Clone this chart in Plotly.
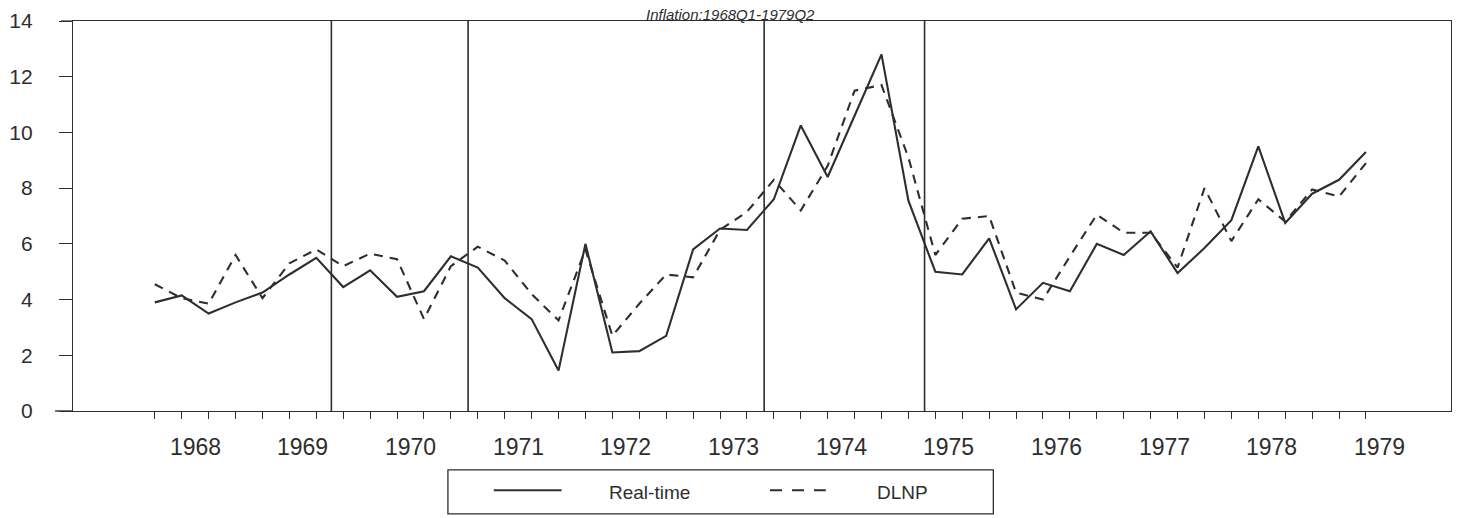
import plotly.graph_objects as go

# ---------------- data ----------------
quarters = [f"{y}Q{q}" for y in range(1968, 1980) for q in range(1, 5)][:46]

real_time = [3.9, 4.15, 3.5, 3.9, 4.25, 4.9, 5.5, 4.45, 5.05, 4.1, 4.3, 5.55,
             5.15, 4.05, 3.3, 1.45, 6.0, 2.1, 2.15, 2.7, 5.8, 6.55, 6.5, 7.6,
             10.25, 8.4, 10.6, 12.8, 7.55, 5.0, 4.9, 6.2, 3.65, 4.6, 4.3, 6.0,
             5.6, 6.45, 4.95, 5.85, 6.85, 9.5, 6.75, 7.8, 8.3, 9.3]

dlnp = [4.55, 4.05, 3.85, 5.6, 4.05, 5.3, 5.8, 5.2, 5.65, 5.45, 3.3, 5.2,
        5.9, 5.4, 4.2, 3.25, 5.8, 2.7, 3.85, 4.9, 4.8, 6.5, 7.15, 8.3,
        7.2, 8.8, 11.5, 11.7, 9.1, 5.6, 6.9, 7.0, 4.25, 4.0, 5.55, 7.05,
        6.4, 6.4, 5.15, 8.0, 6.1, 7.6, 6.8, 7.95, 7.7, 8.9]

# recession boundaries (fractional years) drawn as vertical lines
recession_bounds = [1969.64, 1970.91, 1973.66, 1975.15]

year_labels = [str(y) for y in range(1968, 1980)]
y_ticks = [0, 2, 4, 6, 8, 10, 12, 14]
series_names = ["Real-time", "DLNP"]
title_text = "Inflation:1968Q1-1979Q2"


def qpos(s):
    return int(s[:4]) + (int(s[-1]) - 1) / 4


x = [qpos(s) for s in quarters]
years = [int(y) for y in year_labels]

INK = "#2e2e2e"
FONT = "Liberation Sans, Arial, sans-serif"
W, H = 1461, 518
L, R, T, B = 70, 9, 13, 107
PW, PH = W - L - R, H - T - B


def px_x(p):  # page pixel -> paper x
    return (p - L) / PW


def px_y(p):  # page pixel -> paper y
    return 1 - (p - T) / PH


dash_style = "9px,7px"

fig = go.Figure()
fig.add_trace(go.Scatter(x=x, y=real_time, mode="lines", name=series_names[0],
                         line=dict(color=INK, width=2.1)))
fig.add_trace(go.Scatter(x=x, y=dlnp, mode="lines", name=series_names[1],
                         line=dict(color=INK, width=2.1, dash=dash_style)))

for xb in recession_bounds:
    fig.add_shape(type="line", xref="x", yref="paper", x0=xb, x1=xb, y0=0, y1=1,
                  line=dict(color=INK, width=1.6))

# small extensions of bottom/top frame lines to the left of the y axis
fig.add_shape(type="line", xref="paper", yref="paper", x0=px_x(52), x1=0, y0=0, y1=0,
              line=dict(color=INK, width=1.4))
fig.add_shape(type="line", xref="paper", yref="paper", x0=px_x(58), x1=0, y0=1, y1=1,
              line=dict(color=INK, width=1.2))

# year labels centred under each year's four quarters
for yl, yv in zip(year_labels, years):
    fig.add_annotation(x=yv + 0.375, y=px_y(448), xref="x", yref="paper", text=yl,
                       showarrow=False, yanchor="middle", xanchor="center",
                       font=dict(size=23, color=INK, family=FONT))

# title at the very top
fig.add_annotation(x=px_x(729), y=px_y(6.5), xref="paper", yref="paper",
                   text=f"<i>{title_text}</i>", showarrow=False,
                   yanchor="middle", xanchor="center",
                   font=dict(size=15, color=INK, family=FONT))

# legend box drawn below the axis
fig.add_shape(type="rect", xref="paper", yref="paper",
              x0=px_x(446), x1=px_x(993), y0=px_y(516), y1=px_y(471),
              line=dict(color=INK, width=1.3), fillcolor="white")
fig.add_shape(type="line", xref="paper", yref="paper",
              x0=px_x(492), x1=px_x(560), y0=px_y(492), y1=px_y(492),
              line=dict(color=INK, width=2))
fig.add_shape(type="line", xref="paper", yref="paper",
              x0=px_x(769), x1=px_x(825), y0=px_y(492), y1=px_y(492),
              line=dict(color=INK, width=2, dash="12px,10px"))
fig.add_annotation(x=px_x(606), y=px_y(494), xref="paper", yref="paper",
                   text=series_names[0], showarrow=False, xanchor="left",
                   yanchor="middle", font=dict(size=19, color=INK, family=FONT))
fig.add_annotation(x=px_x(874), y=px_y(494), xref="paper", yref="paper",
                   text=series_names[1], showarrow=False, xanchor="left",
                   yanchor="middle", font=dict(size=19, color=INK, family=FONT))

fig.update_layout(
    width=W, height=H,
    margin=dict(l=L, r=R, t=T, b=B),
    paper_bgcolor="white", plot_bgcolor="white",
    font=dict(family=FONT, color=INK),
    showlegend=False,
    xaxis=dict(range=[1967.24, 1980.04], showgrid=False, zeroline=False,
               showline=True, linecolor=INK, linewidth=1.4, mirror=True,
               ticks="outside", tickvals=years, ticktext=[""] * len(years),
               ticklen=14, tickwidth=1.3, tickcolor=INK,
               minor=dict(ticks="outside", tickvals=x, ticklen=7,
                          tickwidth=1.2, tickcolor=INK, showgrid=False)),
    yaxis=dict(range=[0, 14], showgrid=False, zeroline=False, showline=True,
               linecolor=INK, linewidth=1.4, mirror=True, ticks="outside",
               tickvals=y_ticks, ticklen=13, tickwidth=1.3, tickcolor=INK,
               ticklabelstandoff=22,
               tickfont=dict(size=21, color=INK, family=FONT)),
)

fig.write_html("out.html", config={"displayModeBar": False},
               post_script="document.body.style.margin='0';")
